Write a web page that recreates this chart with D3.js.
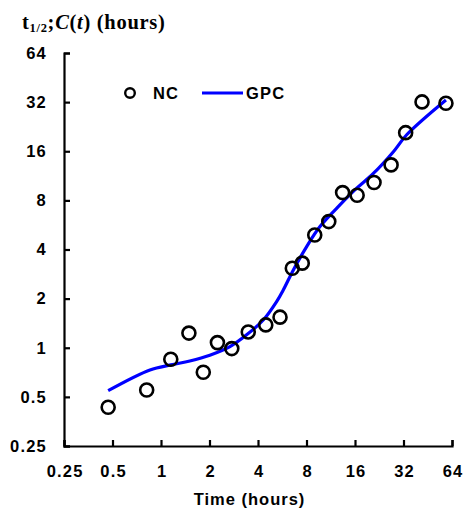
<!DOCTYPE html>
<html>
<head>
<meta charset="utf-8">
<script src="https://cdn.jsdelivr.net/npm/d3@7"></script>
<style>
  body { margin: 0; background: #fff; }
  svg { display: block; }
</style>
</head>
<body>
<div id="chart"></div>
<script>
// NC measurements (time, half-life), hours
const ncTime = [0.47, 0.815, 1.15, 1.49, 1.83, 2.24, 2.75, 3.48, 4.47, 5.48, 6.53, 7.53, 9.0, 11.0, 13.4, 16.5, 21, 26.8, 33, 41.7, 58.7];
const ncValue = [0.432, 0.551, 0.85, 1.23, 0.708, 1.075, 0.988, 1.25, 1.38, 1.54, 3.07, 3.30, 4.91, 5.93, 8.93, 8.6, 10.3, 13.2, 20.8, 32.1, 31.5];

// GPC fitted curve
const gpcTime = [0.47, 0.854, 1.15, 1.51, 2.01, 2.68, 3.4, 4.31, 5.22, 5.74, 6.63, 8.02, 9.7, 12.9, 16.4, 20.8, 27.7, 33.5, 58.7];
const gpcValue = [0.546, 0.731, 0.785, 0.83, 0.90, 1.016, 1.2, 1.48, 1.92, 2.26, 3.0, 4.17, 5.53, 7.5, 9.5, 11.7, 15.9, 20.2, 33];

const tickValues = [0.25, 0.5, 1, 2, 4, 8, 16, 32, 64];

const width = 465, height = 509;
const margin = {top: 53, right: 13, bottom: 63, left: 64};

const svg = d3.select("#chart")
    .append("svg")
    .attr("width", width)
    .attr("height", height)
    .attr("font-family", "Liberation Sans, Arial, sans-serif");

const x = d3.scaleLog().base(2)
    .domain([0.25, 64])
    .range([margin.left, width - margin.right]);

const y = d3.scaleLog().base(2)
    .domain([0.25, 64])
    .range([height - margin.bottom, margin.top]);

// axes
const xAxis = svg.append("g")
    .attr("transform", `translate(0,${height - margin.bottom})`)
    .call(d3.axisBottom(x)
        .tickValues(tickValues)
        .tickSize(-6)
        .tickSizeOuter(-6)
        .tickPadding(19)
        .tickFormat(d => d));

const yAxis = svg.append("g")
    .attr("transform", `translate(${margin.left},0)`)
    .call(d3.axisLeft(y)
        .tickValues(tickValues)
        .tickSize(-6)
        .tickSizeOuter(-6)
        .tickPadding(17)
        .tickFormat(d => d));

[xAxis, yAxis].forEach(g => {
    g.select(".domain").attr("stroke", "#000").attr("stroke-width", 2.2);
    g.selectAll(".tick line").attr("stroke", "#000").attr("stroke-width", 2.2);
    g.selectAll(".tick text")
        .attr("fill", "#000")
        .attr("font-size", 16.5)
        .attr("font-weight", "bold")
        .attr("letter-spacing", 1.2);
});
// keep x labels centred despite the letter spacing
xAxis.selectAll(".tick text").attr("dx", 0.6);

// GPC line
const line = d3.line()
    .x((d, i) => x(gpcTime[i]))
    .y((d, i) => y(gpcValue[i]))
    .curve(d3.curveCatmullRom.alpha(0.5));

svg.append("path")
    .datum(gpcTime)
    .attr("fill", "none")
    .attr("stroke", "#0000ff")
    .attr("stroke-width", 3.2)
    .attr("d", line);

// NC points
svg.append("g")
    .selectAll("circle")
    .data(ncTime)
    .join("circle")
    .attr("cx", d => x(d))
    .attr("cy", (d, i) => y(ncValue[i]))
    .attr("r", 6.5)
    .attr("fill", "none")
    .attr("stroke", "#000")
    .attr("stroke-width", 2.6);

// legend
const legend = svg.append("g")
    .attr("font-size", 16.5)
    .attr("font-weight", "bold")
    .attr("letter-spacing", 1.2);
legend.append("circle")
    .attr("cx", 130).attr("cy", 93).attr("r", 4.8)
    .attr("fill", "none").attr("stroke", "#000").attr("stroke-width", 2.4);
legend.append("text").attr("x", 153).attr("y", 99).text("NC");
legend.append("line")
    .attr("x1", 202).attr("x2", 243).attr("y1", 93).attr("y2", 93)
    .attr("stroke", "#0000ff").attr("stroke-width", 3.2);
legend.append("text").attr("x", 246).attr("y", 99).text("GPC");

// axis titles
svg.append("text")
    .attr("x", 249.5)
    .attr("y", 505)
    .attr("text-anchor", "middle")
    .attr("font-size", 16.5)
    .attr("font-weight", "bold")
    .attr("letter-spacing", 1)
    .text("Time (hours)");

const title = svg.append("text")
    .attr("x", 22)
    .attr("y", 29)
    .attr("font-family", "Liberation Serif, Times New Roman, serif")
    .attr("font-size", 20.5)
    .attr("font-weight", "bold")
    .attr("letter-spacing", 0.7);
title.append("tspan").text("t");
title.append("tspan").attr("font-size", 12.5).attr("dy", 3).text("1/2");
title.append("tspan").attr("dy", -3).text(";");
title.append("tspan").attr("font-style", "italic").text("C");
title.append("tspan").text("(");
title.append("tspan").attr("font-style", "italic").text("t");
title.append("tspan").text(") (hours)");
</script>
</body>
</html>
